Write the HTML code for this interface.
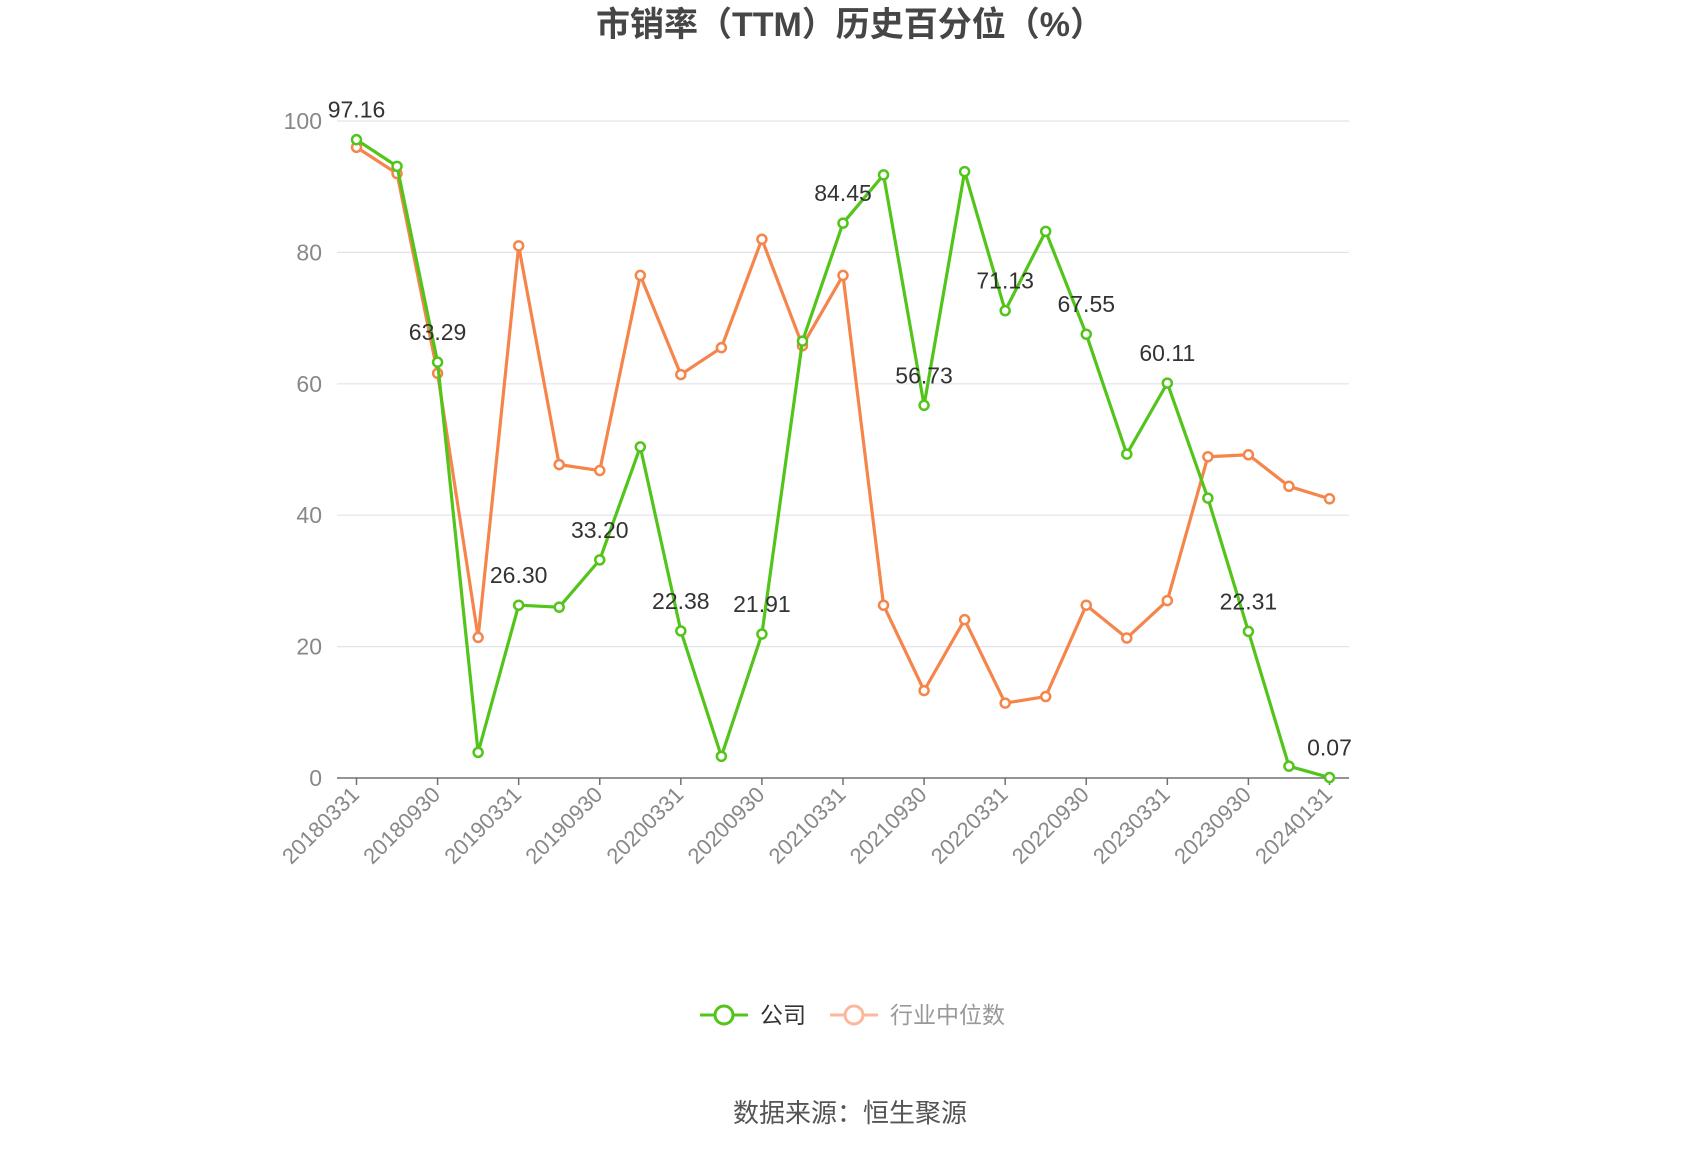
<!DOCTYPE html>
<html><head><meta charset="utf-8"><style>
body{margin:0;background:#fff;width:1700px;height:1150px;overflow:hidden;font-family:"Liberation Sans","Noto Sans CJK SC",sans-serif;}
</style></head><body>
<svg id="chart" width="1700" height="1150" xmlns="http://www.w3.org/2000/svg" font-family="Liberation Sans, Noto Sans CJK SC, sans-serif">
<text x="850" y="36" text-anchor="middle" font-size="34" font-weight="bold" fill="#464646">市销率（TTM）历史百分位（%）</text>
<g id="grid"></g><g id="axes"></g><g id="series"></g>
<g>
<g>
<line x1="700" y1="1015" x2="748" y2="1015" stroke="#52c41a" stroke-width="3"/>
<circle cx="724" cy="1015" r="9" fill="#fff" stroke="#52c41a" stroke-width="3"/>
<text x="760" y="1023" font-size="23" fill="#333">公司</text></g>
<g>
<line x1="830" y1="1015" x2="878" y2="1015" stroke="#fbb89b" stroke-width="3"/>
<circle cx="854" cy="1015" r="9" fill="#fff" stroke="#fbb89b" stroke-width="3"/>
<text x="890" y="1023" font-size="23" fill="#999">行业中位数</text></g>
</g>
<text x="850" y="1122" text-anchor="middle" font-size="26" fill="#555">数据来源：恒生聚源</text>
</svg>
<script>
const categories=["20180331","20180630","20180930","20181231","20190331","20190630","20190930","20191231","20200331","20200630","20200930","20201231","20210331","20210630","20210930","20211231","20220331","20220630","20220930","20221231","20230331","20230630","20230930","20231231","20240131"];
const companyValues=[97.16,93.1,63.29,3.9,26.30,26.0,33.20,50.4,22.38,3.3,21.91,66.5,84.45,91.8,56.73,92.3,71.13,83.2,67.55,49.3,60.11,42.6,22.31,1.8,0.07];
const industryValues=[96,92,61.6,21.4,81,47.7,46.8,76.5,61.4,65.5,82,65.8,76.5,26.3,13.3,24.1,11.4,12.4,26.3,21.3,27,48.9,49.2,44.4,42.5];
const yTicks=[0,20,40,60,80,100];
const NS="http://www.w3.org/2000/svg";
const X0=356.5,X1=1329.5,Y0=778,Y100=121,GL=337,GR=1349;
function xs(i){return X0+(X1-X0)*i/(categories.length-1);}
function ys(v){return Y0+(Y100-Y0)*v/100;}
function mk(tag,attrs,parent){const e=document.createElementNS(NS,tag);for(const k in attrs)e.setAttribute(k,attrs[k]);parent.appendChild(e);return e;}
const grid=document.getElementById('grid'),axes=document.getElementById('axes'),ser=document.getElementById('series');
yTicks.forEach(t=>{
  if(t>0){const l=mk('line',{x1:GL,x2:GR,y1:ys(t),y2:ys(t),stroke:'#e0e3ee','stroke-width':1.2},grid);
  
  }
  const tx=mk('text',{x:322,y:ys(t)+8,'text-anchor':'end','font-size':23,fill:'#888'},axes);
  tx.textContent=t;
  
  
});
const ax=mk('line',{x1:GL,x2:GR,y1:Y0,y2:Y0,stroke:'#6e7079','stroke-width':1.5},axes);


categories.forEach((c,i)=>{
  if(i%2!==0&&i!==categories.length-1)return;
  const x=xs(i);
  mk('line',{x1:x,x2:x,y1:Y0,y2:Y0+7,stroke:'#6e7079','stroke-width':1.5},axes);
  const tx=mk('text',{x:x+4,y:Y0+18,'text-anchor':'end','font-size':22,fill:'#888',transform:`rotate(-45 ${x+4} ${Y0+18})`},axes);
  tx.textContent=c;
  
  
});
function drawSeries(vals,color,name,labels){
  const p=mk('polyline',{points:vals.map((v,i)=>xs(i)+','+ys(v)).join(' '),fill:'none',stroke:color,'stroke-width':3.2,'stroke-linejoin':'round'},ser);
  
  
  vals.forEach((v,i)=>{
    const c=mk('circle',{cx:xs(i),cy:ys(v),r:4.5,fill:'#fff',stroke:color,'stroke-width':2.5},ser);
    
    
    if(labels&&i%2===0){
      const t=mk('text',{x:xs(i),y:ys(v)-22,'text-anchor':'middle','font-size':23,fill:'#333'},ser);
      t.textContent=v.toFixed(2);
      
      
    }
  });
}
drawSeries(industryValues,'#f5854a','industry',false);
drawSeries(companyValues,'#52c41a','company',true);
</script>
</body></html>
